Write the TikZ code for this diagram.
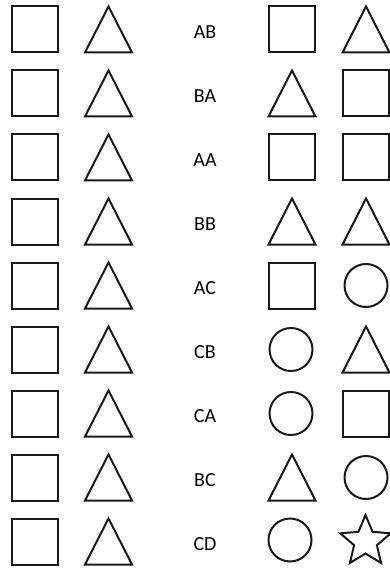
\documentclass[tikz,border=0pt]{standalone}
\usepackage{fontspec}
\setmainfont{Carlito}
\begin{document}
\begin{tikzpicture}[x=1pt,y=-1pt,
  shp/.style={draw=black!90,line width=2pt,line join=miter},
  lbl/.style={font=\fontsize{20}{22}\selectfont,inner sep=0pt}]
\useasboundingbox (0,0) rectangle (389,569);
\def\sq#1#2{\draw[shp] (#1-23,#2-23) rectangle (#1+23,#2+23);}
\def\tri#1#2{\draw[shp] (#1,#2-23) -- (#1+23.5,#2+23) -- (#1-23.5,#2+23) -- cycle;}
\def\cir#1#2{\draw[shp] (#1,#2) circle (21.5);}
\foreach \i/\t in {0/AB,1/BA,2/AA,3/BB,4/AC,5/CB,6/CA,7/BC,8/CD}{
  \pgfmathsetmacro\yy{29.5+64*\i}
  \sq{35}{\yy}
  \tri{108.5}{\yy}
  \node[lbl] (t\i) at (205,\yy+3) {\t};
}
% right column
\sq{292}{29.5}   \tri{366}{29.5}
\tri{292}{93.5}  \sq{366}{93.5}
\sq{292}{157.5}  \sq{366}{157.5}
\tri{292}{221.5} \tri{366}{221.5}
\sq{292}{285.5}  \cir{366}{285.5}
\cir{291}{349.5} \tri{366}{349.5}
\cir{291}{413.5} \sq{366}{413.5}
\tri{292}{477.5} \cir{366}{477.5}
\cir{290}{540}
\begin{scope}[shift={(365.5,541.5)}]
\draw[shp] (-90:26.5) -- (-54:12) -- (-18:26.5) -- (18:12) -- (54:26.5)
  -- (90:12) -- (126:26.5) -- (162:12) -- (198:26.5) -- (234:12) -- cycle;
\end{scope}
\end{tikzpicture}
\end{document}
